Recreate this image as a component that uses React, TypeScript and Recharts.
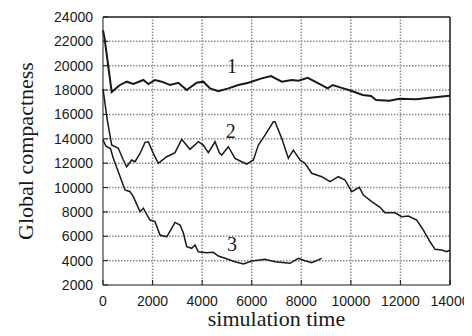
import { LineChart, Line, XAxis, YAxis, ReferenceDot } from "recharts";

// axis ticks
const xTicks = [0, 2000, 4000, 6000, 8000, 10000, 12000, 14000];
const yTicks = [2000, 4000, 6000, 8000, 10000, 12000, 14000, 16000, 18000, 20000, 22000, 24000];

// curve 1
const time1 = [
  0, 60, 350, 550, 686, 956, 1224, 1627, 1830, 2098, 2367, 2703, 3040, 3377, 3780,
  4050, 4317, 4654, 5058, 5461, 5864, 6404, 6780, 7212, 7616, 7885, 8260, 8691,
  9067, 9270, 9600, 10007, 10480, 10814, 11016, 11554, 11957, 12630, 13303, 13973, 14000,
];
const compact1 = [
  22900, 22300, 17850, 18200, 18420, 18690, 18500, 18830, 18500, 18830, 18690, 18420,
  18600, 18000, 18600, 18690, 18140, 17900, 18140, 18420, 18600, 18960, 19150, 18690,
  18830, 18770, 19000, 18550, 18150, 18420, 18200, 17950, 17600, 17510, 17190, 17130,
  17290, 17240, 17400, 17540, 17550,
];

// curve 2
const time2 = [
  0, 173, 351, 617, 819, 956, 1158, 1291, 1493, 1695, 1829, 2030, 2232, 2570, 2905,
  3175, 3510, 3845, 4047, 4250, 4520, 4694, 4789, 5058, 5326, 5597, 5798, 6067, 6268,
  6537, 6872, 6940, 7210, 7477, 7679, 7950, 8150, 8421, 8825, 9160, 9494, 9765, 10035,
  10342, 10503, 10842, 11177, 11379, 11782, 12050, 12320, 12657, 12925, 13195, 13397,
  13665, 13866, 14000,
];
const compact2 = [
  18100, 15540, 13490, 13220, 12260, 11710, 12260, 12120, 12800, 13710, 13760, 12800,
  11990, 12530, 12860, 13960, 13140, 13760, 13490, 12860, 13760, 12860, 12670, 13350,
  12400, 12120, 11930, 12260, 13490, 14310, 15400, 15400, 14040, 12400, 13080, 12260,
  11990, 11170, 10890, 10480, 10890, 10620, 9660, 10020, 9390, 8840, 8380, 7930, 7930,
  7610, 7660, 7330, 6510, 5550, 4930, 4870, 4730, 4870,
];

// curve 3
const time3 = [
  0, 120, 300, 416, 617, 888, 1090, 1224, 1493, 1627, 1895, 2098, 2300, 2570, 2770,
  2905, 3107, 3240, 3377, 3580, 3712, 3845, 4184, 4450, 4654, 4923, 5326, 5664, 6000,
  6537, 6940, 7545, 7880, 8150, 8420, 8825,
];
const compact3 = [
  13900, 13400, 13200, 12400, 11300, 9800, 9660, 9250, 8020, 8300, 7330, 7200, 6100,
  5960, 6650, 7140, 6920, 6290, 5140, 5010, 5280, 4730, 4650, 4680, 4380, 4190, 3910,
  3720, 3970, 4110, 3910, 3780, 4190, 3990, 3830, 4190,
];

// curve numbers
const curveNames = ["1", "2", "3"];
const curveNameX = [5200, 5150, 5200];
const curveNameY = [20000, 14650, 5400];

const X_MIN = 0;
const X_MAX = 14000;
const Y_MIN = 2000;
const Y_MAX = 24000;

const toPoints = (xs: number[], ys: number[]) => xs.map((t, i) => ({ t, v: ys[i] }));

const series = [
  { name: "1", data: toPoints(time1, compact1), width: 2 },
  { name: "2", data: toPoints(time2, compact2), width: 1.5 },
  { name: "3", data: toPoints(time3, compact3), width: 1.5 },
];

/** 점선 격자와 위/오른쪽 테두리 (눈금값으로 만든 2점짜리 선) */
const gridV = xTicks.slice(1, -1).map((t) => [{ t, v: Y_MIN }, { t, v: Y_MAX }]);
const gridH = yTicks.slice(1, -1).map((v) => [{ t: X_MIN, v }, { t: X_MAX, v }]);
const frame = [
  [{ t: X_MIN, v: Y_MAX }, { t: X_MAX, v: Y_MAX }],
  [{ t: X_MAX, v: Y_MIN }, { t: X_MAX, v: Y_MAX }],
];

const INK = "#1a1a1a";
const GRID = "#8a8a8a";
const SANS = "'Liberation Sans', Arial, sans-serif";
const SERIF = "'Liberation Serif', 'Times New Roman', serif";

const LeftTick = ({ x, y, payload }: any) => (
  <g>
    <text x={x} y={y} dy={5} textAnchor="end" fontSize={14} fontFamily={SANS} fill={INK}>
      {payload.value}
    </text>
    <line x1={x + 10} x2={x + 15} y1={y} y2={y} stroke={INK} />
  </g>
);

const BottomTick = ({ x, y, payload }: any) => (
  <g>
    <text x={x} y={y} dy={10} textAnchor="middle" fontSize={14} fontFamily={SANS} fill={INK}>
      {payload.value}
    </text>
    <line x1={x} x2={x} y1={y - 11} y2={y - 16} stroke={INK} />
  </g>
);

export default function App() {
  return (
    <div style={{ margin: -8 }}>
      <LineChart width={472} height={336} margin={{ top: 17, right: 22, left: 0, bottom: 0 }}>
        <XAxis
          dataKey="t"
          type="number"
          domain={[X_MIN, X_MAX]}
          ticks={xTicks}
          height={51}
          tickSize={0}
          tickMargin={11}
          tickLine={false}
          stroke={INK}
          tick={<BottomTick />}
          label={{
            value: "simulation time",
            position: "insideBottom",
            offset: 10,
            fontSize: 22,
            fontFamily: SERIF,
            fill: INK,
          }}
        />
        <YAxis
          type="number"
          domain={[Y_MIN, Y_MAX]}
          ticks={yTicks}
          width={103}
          tickSize={0}
          tickMargin={10}
          tickLine={false}
          stroke={INK}
          tick={<LeftTick />}
          label={{
            value: "Global compactness",
            angle: -90,
            position: "insideLeft",
            offset: 25,
            fontSize: 22,
            fontFamily: SERIF,
            fill: INK,
            style: { textAnchor: "middle" },
          }}
        />
        {/* 점선 격자 */}
        {[...gridV, ...gridH].map((d, i) => (
          <Line
            key={`g${i}`}
            data={d}
            dataKey="v"
            stroke={GRID}
            strokeWidth={1.5}
            strokeDasharray="1.5 1.5"
            dot={false}
            isAnimationActive={false}
          />
        ))}
        {/* 위/오른쪽 테두리 */}
        {frame.map((d, i) => (
          <Line
            key={`f${i}`}
            data={d}
            dataKey="v"
            stroke={INK}
            strokeWidth={1.5}
            dot={false}
            isAnimationActive={false}
          />
        ))}
        {series.map((s) => (
          <Line
            key={s.name}
            data={s.data}
            dataKey="v"
            type="linear"
            stroke={INK}
            strokeWidth={s.width}
            dot={false}
            isAnimationActive={false}
          />
        ))}
        {curveNames.map((n, i) => (
          <ReferenceDot
            key={n}
            x={curveNameX[i]}
            y={curveNameY[i]}
            r={1}
            fill="none"
            stroke="none"
            label={{ value: n, position: "center", fontSize: 20, fontFamily: SERIF, fill: INK }}
          />
        ))}
      </LineChart>
    </div>
  );
}
